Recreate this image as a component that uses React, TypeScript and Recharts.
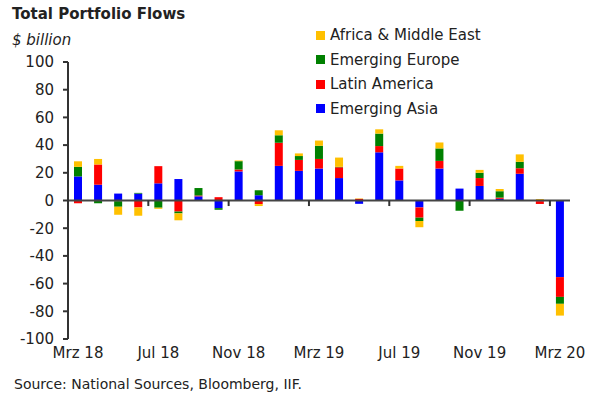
import React from 'react';
import { BarChart, Bar, XAxis, YAxis, ReferenceLine } from 'recharts';

const months = [
  'Mrz 18', 'Apr 18', 'Mai 18', 'Jun 18', 'Jul 18', 'Aug 18', 'Sep 18', 'Okt 18', 'Nov 18', 'Dez 18',
  'Jan 19', 'Feb 19', 'Mrz 19', 'Apr 19', 'Mai 19', 'Jun 19', 'Jul 19', 'Aug 19', 'Sep 19', 'Okt 19',
  'Nov 19', 'Dez 19', 'Jan 20', 'Feb 20', 'Mrz 20',
];

const emergingAsia = [17.4, 11.4, 5, 5, 12.4, 15.5, 3, -5.5, 21, 3.8, 25, 21.4, 23.1, 16.2, -2.4, 34.8, 14.5, -5, 23.1, 8.6, 10.5, 1.2, 19.3, -0.5, -55.3];
const latinAmerica = [-2, 14.6, -0.5, -5, 12.4, -8, 0.6, 2.4, 1.4, -2.6, 16.7, 7.9, 6.9, 7.8, 1.2, 4.5, 8.6, -7.4, 5.5, 0, 5.7, 0.9, 4, -2, -14.3];
const emergingEurope = [6.9, -2, -4, 0.5, -5.2, -1.3, 5.4, -1.2, 6, 3.6, 5.4, 2.8, 9.5, 0.3, 0, 9, 0, -2.4, 9, -7.4, 3.8, 4.6, 4.6, 0, -5];
const africaMiddleEast = [4, 4, -5.8, -6, -0.8, -5, 0, 0, 0.5, -1.4, 3.6, 1.9, 3.8, 6.7, 0.3, 3.1, 1.9, -4.5, 4.3, 0, 2.1, 1.6, 5.4, 1, -8.5];

const yTicks = [-100, -80, -60, -40, -20, 0, 20, 40, 60, 80, 100];
const labelIdx = [0, 4, 8, 12, 16, 20, 24];
const boundaryIdx = [3.5, 7.5, 11.5, 15.5, 19.5, 23.5];

// stacking order: first one sits next to zero
const series = [
  { key: 'asia', name: 'Emerging Asia', color: '#0000FF' },
  { key: 'latam', name: 'Latin America', color: '#FF0000' },
  { key: 'europe', name: 'Emerging Europe', color: '#008000' },
  { key: 'ame', name: 'Africa & Middle East', color: '#FFC000' },
];

const data = months.map((m, i) => ({
  i,
  month: m,
  asia: emergingAsia[i],
  latam: latinAmerica[i],
  europe: emergingEurope[i],
  ame: africaMiddleEast[i],
}));

const font = '"DejaVu Sans", sans-serif';
const ink = '#222';

export default function App() {
  return (
    <div style={{ position: 'absolute', left: 0, top: 0, width: 590, height: 401, background: '#fff', fontFamily: font }}>
      <div style={{ position: 'absolute', left: 12, top: 5, fontSize: 15, fontWeight: 'bold', color: ink }}>
        Total Portfolio Flows
      </div>
      <div style={{ position: 'absolute', left: 12, top: 31, fontSize: 15, fontStyle: 'italic', color: ink }}>
        $ billion
      </div>
      <div style={{ position: 'absolute', left: 316, top: 23, fontSize: 15, color: ink, zIndex: 2 }}>
        {[...series].reverse().map((s) => (
          <div key={s.key} style={{ display: 'flex', alignItems: 'center', height: 24.5 }}>
            <span style={{ width: 9, height: 9, background: s.color, marginRight: 5, display: 'inline-block' }} />
            {s.name}
          </div>
        ))}
      </div>
      <BarChart
        width={590}
        height={401}
        data={data}
        stackOffset="sign"
        margin={{ top: 62, right: 20, left: 0, bottom: 36 }}
      >
        <XAxis
          dataKey="i"
          type="number"
          domain={[-0.5, 24.5]}
          allowDataOverflow
          ticks={labelIdx}
          interval={0}
          tickFormatter={(v: number) => months[v]}
          axisLine={false}
          tickLine={false}
          tick={{ fontSize: 15, fill: ink, fontFamily: font }}
          height={26}
        />
        <YAxis
          domain={[-100, 100]}
          ticks={yTicks}
          interval={0}
          width={68}
          tick={{ fontSize: 15, fill: ink, fontFamily: font }}
          tickSize={5}
          tickMargin={9}
          axisLine={{ stroke: '#333', strokeWidth: 2 }}
          tickLine={{ stroke: '#333', strokeWidth: 2 }}
        />
        {series.map((s) => (
          <Bar
            key={s.key}
            dataKey={s.key}
            name={s.name}
            stackId="flows"
            fill={s.color}
            barSize={8}
            isAnimationActive={false}
          />
        ))}
        <ReferenceLine y={0} stroke="#444" strokeWidth={2} />
        {boundaryIdx.map((b) => (
          <ReferenceLine
            key={b}
            segment={[{ x: b, y: 0 }, { x: b, y: -4 }]}
            stroke="#333"
            strokeWidth={2}
          />
        ))}
      </BarChart>
      <div style={{ position: 'absolute', left: 14, top: 376, fontSize: 14, color: ink }}>
        Source: National Sources, Bloomberg, IIF.
      </div>
    </div>
  );
}
